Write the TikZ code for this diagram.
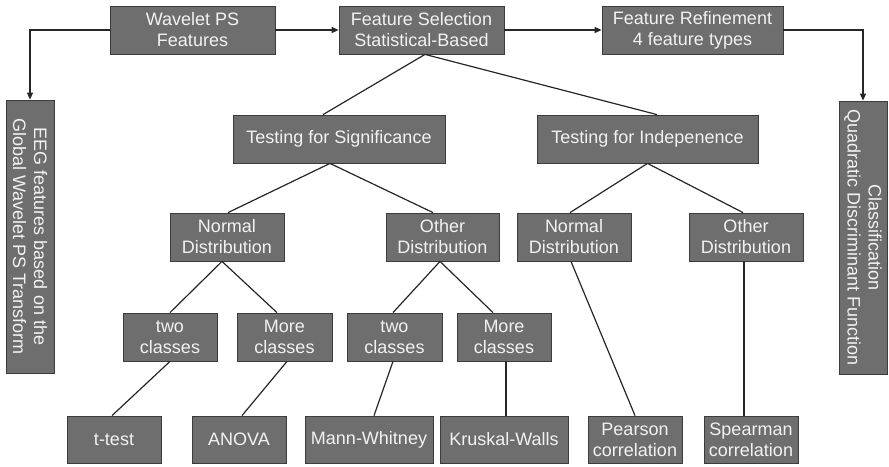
\documentclass[tikz,border=0pt]{standalone}
\usepackage{fontspec}
\setmainfont{Liberation Sans}
\usetikzlibrary{arrows.meta}
\definecolor{boxfill}{HTML}{6E6E6E}
\definecolor{boxline}{HTML}{3C3C3C}
\definecolor{boxtext}{HTML}{F2F2F2}
\begin{document}
\begin{tikzpicture}[x=1pt,y=-1pt,
  box/.style={draw=boxline,line width=0.8pt,fill=boxfill,text=boxtext,inner sep=0pt,align=center,
    font=\fontsize{18}{21}\selectfont},
  lnk/.style={draw=black!85,line width=1.2pt},
  arr/.style={lnk,-{Triangle[length=7pt,width=6pt]}}]
\useasboundingbox (0,0) rectangle (889,466);
% top row
\node[box,minimum width=165pt,minimum height=48pt] (wav) at (192.5,30) {Wavelet PS\\Features};
\node[box,minimum width=165pt,minimum height=48pt] (fs) at (421.5,30) {Feature Selection\\Statistical-Based};
\node[box,minimum width=181pt,minimum height=48pt] (fr) at (692.5,30) {Feature Refinement\\4 feature types};
% side boxes
\node[box,rotate=-90,minimum width=273pt,minimum height=48pt] (eeg) at (30,236.5) {EEG features based on the\\Global Wavelet PS Transform};
\node[box,rotate=-90,minimum width=273pt,minimum height=48pt] (cls) at (863,237.5) {Classification\\Quadratic Discriminant Function};
% level 2
\node[box,minimum width=212pt,minimum height=48pt] (ts) at (339,139) {Testing for Significance};
\node[box,minimum width=221pt,minimum height=48pt] (ti) at (647.5,139) {Testing for Indepenence};
% level 3
\node[box,minimum width=114pt,minimum height=48pt] (ndl) at (227,237) {Normal\\Distribution};
\node[box,minimum width=113pt,minimum height=48pt] (odl) at (442.5,237) {Other\\Distribution};
\node[box,minimum width=114pt,minimum height=48pt] (ndr) at (574,237) {Normal\\Distribution};
\node[box,minimum width=114pt,minimum height=48pt] (odr) at (746,237) {Other\\Distribution};
% level 4
\node[box,minimum width=94pt,minimum height=48pt] (tcl) at (170,337) {two\\classes};
\node[box,minimum width=95pt,minimum height=48pt] (mcl) at (284.5,337) {More\\classes};
\node[box,minimum width=95pt,minimum height=48pt] (tcr) at (394.5,337) {two\\classes};
\node[box,minimum width=94pt,minimum height=48pt] (mcr) at (504,337) {More\\classes};
% level 5
\node[box,minimum width=94pt,minimum height=47pt] (tt) at (114,439.5) {t-test};
\node[box,minimum width=94pt,minimum height=47pt] (an) at (239,439.5) {ANOVA};
\node[box,minimum width=128pt,minimum height=47pt] (mw) at (369,439.5) {Mann-Whitney};
\node[box,minimum width=128pt,minimum height=47pt] (kw) at (504,439.5) {Kruskal-Walls};
\node[box,minimum width=94pt,minimum height=47pt] (pc) at (635,439.5) {Pearson\\correlation};
\node[box,minimum width=94pt,minimum height=47pt] (sc) at (751,439.5) {Spearman\\correlation};
% arrows
\draw[arr] (wav.east) -- (fs.west);
\draw[arr] (fs.east) -- (fr.west);
\draw[arr] (wav.west) -| (eeg.west);
\draw[arr] (fr.east) -| (cls.west);
% tree links
\draw[lnk] ([xshift=3.5pt]fs.south) -- ([xshift=-16pt]ts.north);
\draw[lnk] ([xshift=3.5pt]fs.south) -- ([xshift=9.5pt]ti.north);
\draw[lnk] ([xshift=-9pt]ts.south) -- ([xshift=1pt]ndl.north);
\draw[lnk] ([xshift=-9pt]ts.south) -- ([xshift=-9.5pt]odl.north);
\draw[lnk] (ti.south) -- ([xshift=-4pt]ndr.north);
\draw[lnk] (ti.south) -- ([xshift=-3pt]odr.north);
\draw[lnk] ([xshift=-5pt]ndl.south) -- (tcl.north);
\draw[lnk] ([xshift=-5pt]ndl.south) -- ([xshift=-7.5pt]mcl.north);
\draw[lnk] ([xshift=-2.5pt]odl.south) -- ([xshift=-1.5pt]tcr.north);
\draw[lnk] ([xshift=-2.5pt]odl.south) -- ([xshift=-11pt]mcr.north);
\draw[lnk] (tcl.south) -- ([xshift=-2pt]tt.north);
\draw[lnk] ([xshift=2.5pt]mcl.south) -- ([xshift=3pt]an.north);
\draw[lnk] ([xshift=-1.5pt]tcr.south) -- ([xshift=5pt]mw.north);
\draw[lnk] ([xshift=2pt]mcr.south) -- ([xshift=2pt]kw.north);
\draw[lnk] ([xshift=-3pt]ndr.south) -- (pc.north);
\draw[lnk] ([xshift=-2pt]odr.south) -- ([xshift=-7pt]sc.north);
\end{tikzpicture}
\end{document}
